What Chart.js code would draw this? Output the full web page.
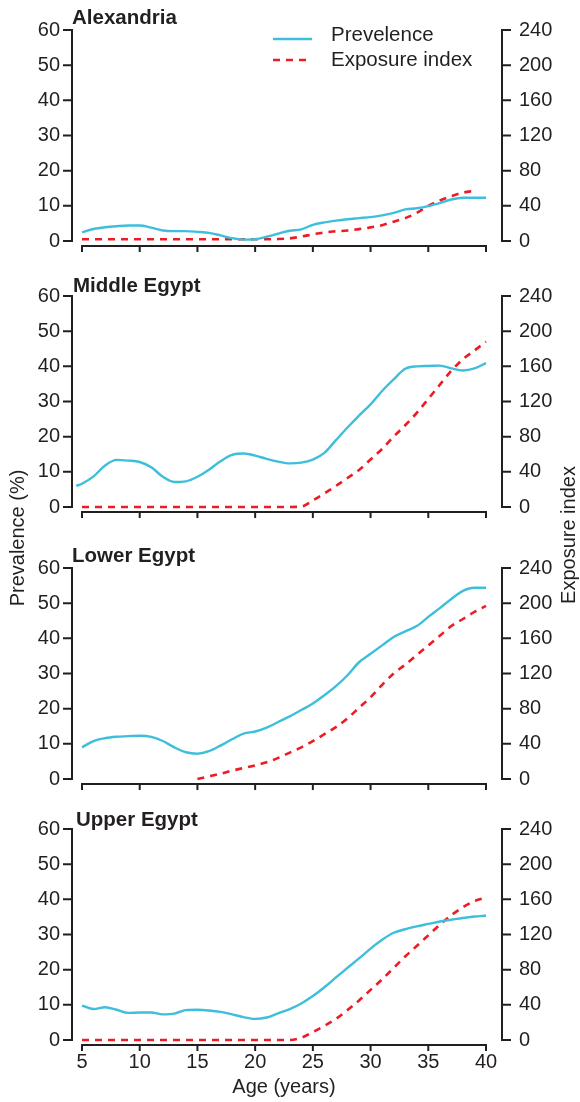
<!DOCTYPE html>
<html>
<head>
<meta charset="utf-8">
<title>Prevalence and exposure index by age</title>
<script src="https://cdn.jsdelivr.net/npm/chart.js@4.4.0/dist/chart.umd.min.js"></script>
<style>
  body { margin: 0; background: #fff; }
  #fig { position: relative; width: 580px; height: 1102px; overflow: hidden;
         font-family: "Liberation Sans", Arial, Helvetica, sans-serif; color: #231f20; }
  #fig canvas { position: absolute; left: 0; }
  .ptitle { position: absolute; font-weight: bold; font-size: 20.5px; line-height: 20px; white-space: nowrap; }
  .ytitle { position: absolute; width: 220px; text-align: center; font-size: 20px; line-height: 20px;
            transform: rotate(-90deg); white-space: nowrap; }
</style>
</head>
<body>
<div id="fig">
  <canvas id="c0" width="580" height="262" style="top:0px"></canvas>
  <canvas id="c1" width="580" height="262" style="top:266px"></canvas>
  <canvas id="c2" width="580" height="262" style="top:538px"></canvas>
  <canvas id="c3" width="580" height="303" style="top:799px"></canvas>
  <div class="ptitle" style="left:72px; top:7px">Alexandria</div>
  <div class="ptitle" style="left:73px; top:275px">Middle Egypt</div>
  <div class="ptitle" style="left:72px; top:545px">Lower Egypt</div>
  <div class="ptitle" style="left:76px; top:809px">Upper Egypt</div>
  <div class="ytitle" style="left:-93px; top:528px">Prevalence (%)</div>
  <div class="ytitle" style="left:458px; top:525px">Exposure index</div>
</div>
<script>
// Datos (edad en años)
const ages = [5, 6, 7, 8, 9, 10, 11, 12, 13, 14, 15, 16, 17, 18, 19, 20, 21, 22,
              23, 24, 25, 26, 27, 28, 29, 30, 31, 32, 33, 34, 35, 36, 37, 38, 39, 40];
const middleAges = [4.5].concat(ages); // la curva de Middle Egypt empieza antes de 5

const regions = ['Alexandria', 'Middle Egypt', 'Lower Egypt', 'Upper Egypt'];
const seriesNames = ['Prevelence', 'Exposure index'];
const ageTicks = [5, 10, 15, 20, 25, 30, 35, 40];
const prevTicks = [0, 10, 20, 30, 40, 50, 60];
const expoTicks = [0, 40, 80, 120, 160, 200, 240];

// Prevalencia (%)
const alexPrev = [2.5, 3.4, 3.9, 4.2, 4.4, 4.4, 3.8, 3.0, 2.8, 2.8, 2.6, 2.3, 1.6, 0.8, 0.4, 0.5, 1.2, 2.1,
                  2.9, 3.3, 4.6, 5.3, 5.8, 6.2, 6.5, 6.8, 7.3, 8.0, 9.0, 9.3, 9.9, 10.8, 11.8, 12.3, 12.3, 12.3];
const middlePrev = [6.0, 6.6, 8.7, 11.8, 13.4, 13.2, 12.8, 11.3, 8.6, 7.1, 7.3, 8.6, 10.6, 13.0, 14.8, 15.2, 14.6, 13.7, 12.9,
                    12.4, 12.6, 13.5, 15.4, 19.0, 22.6, 26.0, 29.2, 33.0, 36.3, 39.3, 40.0, 40.1, 40.2, 39.4, 38.8, 39.4, 40.9];
const lowerPrev = [9.0, 10.8, 11.6, 12.0, 12.2, 12.3, 12.0, 10.8, 9.0, 7.6, 7.2, 7.9, 9.5, 11.3, 12.9, 13.5, 14.6, 16.2,
                   17.8, 19.6, 21.5, 23.8, 26.4, 29.5, 33.2, 35.6, 38.0, 40.4, 42.0, 43.5, 46.1, 48.6, 51.2, 53.5, 54.4, 54.4];
const upperPrev = [9.8, 8.8, 9.3, 8.6, 7.7, 7.8, 7.8, 7.3, 7.5, 8.5, 8.6, 8.4, 8.0, 7.3, 6.5, 6.0, 6.4, 7.6,
                   8.8, 10.4, 12.5, 15.0, 17.8, 20.5, 23.2, 26.0, 28.5, 30.5, 31.5, 32.3, 33.0, 33.7, 34.2, 34.7, 35.1, 35.4];

// Índice de exposición
const alexExpo = [2, 2, 2, 2, 2, 2, 2, 2, 2, 2, 2, 2, 2, 2, 2, 2, 2, 2.2,
                  3, 5, 7.5, 9.8, 11, 12, 13.5, 15.5, 18, 22, 26, 32, 40, 46, 51, 55, 57, null];
const middleExpo = [0, 0, 0, 0, 0, 0, 0, 0, 0, 0, 0, 0, 0, 0, 0, 0, 0, 0,
                    0, 0.5, 7.5, 15.5, 24, 33, 42, 54, 66, 80, 93, 107, 123, 139, 155, 168, 178, 188];
const lowerExpo = [null, null, null, null, null, null, null, null, null, null, 0, 3, 6, 9.5, 12.5, 15.5, 19, 24,
                   30, 36, 43, 51, 59, 69, 81, 93, 107, 120, 130, 141, 152, 163, 174, 182, 190, 197];
const upperExpo = [0, 0, 0, 0, 0, 0, 0, 0, 0, 0, 0, 0, 0, 0, 0, 0, 0, 0,
                   0, 2.5, 9, 16, 24, 34, 45, 57, 69, 82, 95, 107, 119, 131, 142, 151, 158, 162];

const panels = [
  { canvas: 'c0', prevX: ages, prev: alexPrev, expo: alexExpo, legend: true, bottom: false },
  { canvas: 'c1', prevX: middleAges, prev: middlePrev, expo: middleExpo, legend: false, bottom: false },
  { canvas: 'c2', prevX: ages, prev: lowerPrev, expo: lowerExpo, legend: false, bottom: false },
  { canvas: 'c3', prevX: ages, prev: upperPrev, expo: upperExpo, legend: false, bottom: true }
];

const ink = '#231f20';
const cyan = '#3dbfdc';
const red = '#ed1c24';
const fontFamily = '"Liberation Sans", Arial, Helvetica, sans-serif';

Chart.defaults.font.family = fontFamily;
Chart.defaults.font.size = 20;
Chart.defaults.color = ink;

const toPoints = (xs, ys) => xs.map((x, i) => ({ x: x, y: ys[i] }));

// Ejes separados del área del gráfico (como en la figura original)
const spinesPlugin = {
  id: 'spines',
  beforeDatasetsDraw(chart) {
    const { ctx, scales: { x, yL, yR } } = chart;
    const top = yL.getPixelForValue(60);
    const bot = yL.getPixelForValue(0);
    const left = x.getPixelForValue(5) - 10;
    const right = x.getPixelForValue(40) + 16;
    const xLine = bot + 5;
    ctx.save();
    ctx.strokeStyle = ink;
    ctx.lineWidth = 2;
    ctx.lineCap = 'square';
    ctx.beginPath();
    ctx.moveTo(left, top);
    ctx.lineTo(left, bot);
    prevTicks.forEach(v => {
      const py = yL.getPixelForValue(v);
      ctx.moveTo(left - 8, py);
      ctx.lineTo(left, py);
    });
    ctx.moveTo(right, yR.getPixelForValue(240));
    ctx.lineTo(right, yR.getPixelForValue(0));
    expoTicks.forEach(v => {
      const py = yR.getPixelForValue(v);
      ctx.moveTo(right, py);
      ctx.lineTo(right + 8, py);
    });
    ctx.moveTo(x.getPixelForValue(5), xLine);
    ctx.lineTo(x.getPixelForValue(40), xLine);
    ageTicks.forEach(v => {
      const px = x.getPixelForValue(v);
      ctx.moveTo(px, xLine);
      ctx.lineTo(px, xLine + 5);
    });
    ctx.stroke();
    ctx.restore();
  }
};

// Leyenda dibujada a mano en el primer panel
const legendPlugin = {
  id: 'cornerLegend',
  afterDraw(chart, args, opts) {
    if (!opts.show) return;
    const ctx = chart.ctx;
    const rows = [{ line: 39, text: 35 }, { line: 60, text: 60 }];
    ctx.save();
    chart.data.datasets.forEach((ds, i) => {
      ctx.strokeStyle = ds.borderColor;
      ctx.lineWidth = ds.borderWidth;
      ctx.setLineDash(ds.borderDash || []);
      ctx.beginPath();
      ctx.moveTo(273, rows[i].line);
      ctx.lineTo(312, rows[i].line);
      ctx.stroke();
      ctx.setLineDash([]);
      ctx.fillStyle = ink;
      ctx.font = '20.5px ' + fontFamily;
      ctx.textBaseline = 'middle';
      ctx.textAlign = 'left';
      ctx.fillText(ds.label, 331, rows[i].text);
    });
    ctx.restore();
  }
};

// Quitar el relleno automático que Chart.js añade para las etiquetas
const noPad = s => { s.paddingTop = 0; s.paddingBottom = 0; s.paddingLeft = 0; s.paddingRight = 0; };

panels.forEach(p => {
  const canvas = document.getElementById(p.canvas);
  new Chart(canvas.getContext('2d'), {
    type: 'line',
    data: {
      datasets: [{
        label: seriesNames[0],
        data: toPoints(p.prevX, p.prev),
        yAxisID: 'yL',
        borderColor: cyan,
        borderWidth: 2.4,
        pointRadius: 0,
        cubicInterpolationMode: 'monotone',
        clip: false
      }, {
        label: seriesNames[1],
        data: toPoints(ages, p.expo),
        yAxisID: 'yR',
        borderColor: red,
        borderWidth: 2.6,
        borderDash: [7, 6],
        pointRadius: 0,
        cubicInterpolationMode: 'monotone',
        clip: false
      }]
    },
    options: {
      responsive: false,
      animation: false,
      events: [],
      layout: { padding: { top: 30, left: 0, right: 0, bottom: 0 } },
      plugins: {
        legend: { display: false },
        tooltip: { enabled: false },
        cornerLegend: { show: p.legend }
      },
      scales: {
        x: {
          type: 'linear',
          min: 5,
          max: 40,
          afterBuildTicks: s => { s.ticks = ageTicks.map(v => ({ value: v })); },
          afterFit: s => { noPad(s); s.height = canvas.height - 30 - 211; },
          grid: { display: false, drawTicks: false },
          border: { display: false },
          ticks: { display: p.bottom, padding: 10, maxRotation: 0, autoSkip: false, font: { size: 20 } },
          title: { display: p.bottom, text: 'Age (years)', font: { size: 20 }, padding: { top: 0, bottom: 3 } }
        },
        yL: {
          type: 'linear',
          position: 'left',
          min: 0,
          max: 60,
          afterBuildTicks: s => { s.ticks = prevTicks.map(v => ({ value: v })); },
          afterFit: s => { noPad(s); s.width = 82; },
          grid: { display: false, drawTicks: false },
          border: { display: false },
          ticks: { padding: 22, font: { size: 20 } }
        },
        yR: {
          type: 'linear',
          position: 'right',
          min: 0,
          max: 240,
          afterBuildTicks: s => { s.ticks = expoTicks.map(v => ({ value: v })); },
          afterFit: s => { noPad(s); s.width = 94; },
          grid: { display: false, drawTicks: false },
          border: { display: false },
          ticks: { padding: 33, font: { size: 20 } }
        }
      }
    },
    plugins: [spinesPlugin, legendPlugin]
  });
});
</script>
</body>
</html>
